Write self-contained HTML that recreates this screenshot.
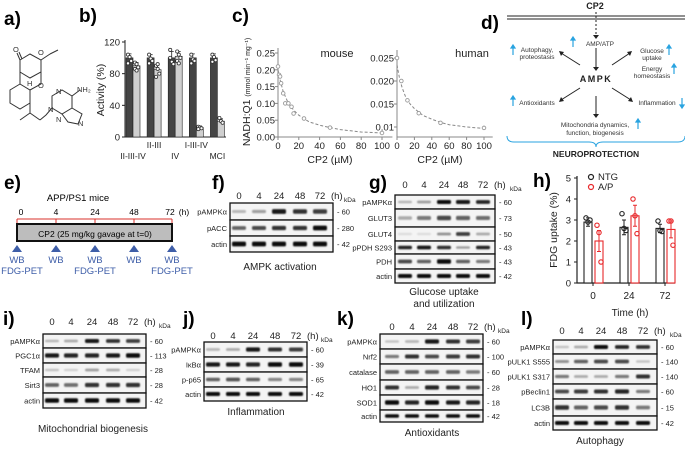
<!DOCTYPE html>
<html><head><meta charset="utf-8"><style>
html,body{margin:0;padding:0;background:#fff;}
svg{display:block;font-family:"Liberation Sans",Arial,sans-serif;}
.pl{font-weight:bold;font-size:19px;}
</style></head><body>
<svg id="fig" width="685" height="449" viewBox="0 0 685 449" xmlns="http://www.w3.org/2000/svg">
<defs><filter id="blur" x="-20%" y="-60%" width="140%" height="220%"><feGaussianBlur stdDeviation="0.8"/></filter></defs>
<text class="pl" x="4" y="25">a)</text>
<text class="pl" x="79" y="22">b)</text>
<text class="pl" x="232" y="22">c)</text>
<text class="pl" x="481" y="29">d)</text>
<text class="pl" x="4" y="189">e)</text>
<text class="pl" x="212" y="189">f)</text>
<text class="pl" x="369" y="189">g)</text>
<text class="pl" x="533" y="187">h)</text>
<text class="pl" x="3" y="325">i)</text>
<text class="pl" x="183" y="325">j)</text>
<text class="pl" x="337" y="325">k)</text>
<text class="pl" x="521" y="325">l)</text>

<g stroke="#333" stroke-width="1" fill="none">
<path d="M20,60 L30,54 L41,60 L41,72 L30,78 L20,72 Z"/>
<path d="M41,60 L50,54 M50,54 L58,50"/>
<path d="M20,60 L17,53 M22,59 L19,52"/>
<path d="M20,72 L20,84 L30,90 L41,84 L41,72"/>
<path d="M20,84 L10,90 L10,103 L20,109 L30,103 L30,90"/>
<path d="M30,103 L30,113 M30,113 L20,120 M30,113 L40,120"/>
<path d="M40,120 L46,115 L52,108"/>
<path d="M52,108 L52,96 L62,90 L72,96 L72,108 L62,114 Z"/>
<path d="M72,96 L80,90 M72,108 L82,114 L78,124 L68,122 L62,114"/>
</g>
<g font-size="7.5" fill="#333">
<text x="13" y="52">O</text><text x="38" y="55">O</text><text x="38" y="88">O</text><text x="27" y="86">H</text>
<text x="56" y="94">N</text><text x="77" y="92">NH₂</text><text x="48" y="112">N</text><text x="56" y="122">N</text><text x="78" y="126">N</text>
</g>

<g>
<line x1="507" y1="16" x2="685" y2="16" stroke="#222" stroke-width="1"/>
<line x1="507" y1="19" x2="685" y2="19" stroke="#222" stroke-width="1"/>
<text x="595" y="9" font-size="9" font-weight="bold" text-anchor="middle" fill="#222">CP2</text>
<line x1="596" y1="12" x2="596" y2="36" stroke="#222" stroke-dasharray="2,2"/>
<g stroke="#222" stroke-width="1" fill="none">
<line x1="596" y1="48" x2="596" y2="68"/><line x1="580" y1="65" x2="561" y2="53"/><line x1="612" y1="65" x2="630" y2="53"/>
<line x1="580" y1="88" x2="561" y2="100"/><line x1="612" y1="88" x2="631" y2="100"/><line x1="596" y1="96" x2="596" y2="115"/>
</g>
<g fill="#222"><path d="M593,35 L599,35 L596,39Z"/><path d="M593,67 L599,67 L596,71Z"/><path d="M559,51 L564,52 L561,56Z"/><path d="M632,51 L627,52 L630,56Z"/>
<path d="M559,102 L561,97 L564,101Z"/><path d="M633,102 L628,101 L631,97Z"/><path d="M593,114 L599,114 L596,118Z"/></g>
<g font-size="6.5" fill="#333" text-anchor="middle">
<text x="600" y="46">AMP/ATP</text>
<text x="537" y="52">Autophagy,</text><text x="537" y="59">proteostasis</text>
<text x="652" y="53">Glucose</text><text x="652" y="60">uptake</text>
<text x="652" y="71">Energy</text><text x="652" y="78">homeostasis</text>
<text x="537" y="105">Antioxidants</text><text x="657" y="105">Inflammation</text>
<text x="595" y="127">Mitochondria dynamics,</text><text x="595" y="135">function, biogenesis</text>
</g>
<text x="596" y="82" font-size="9" font-weight="bold" text-anchor="middle" letter-spacing="1.5" fill="#222">AMPK</text>
<g stroke="#29a3e0" stroke-width="1.2" fill="#29a3e0">
<line x1="573" y1="47" x2="573" y2="39"/><path d="M571,40 L575,40 L573,37Z"/>
<line x1="513" y1="55" x2="513" y2="47"/><path d="M511,48 L515,48 L513,45Z"/>
<line x1="669" y1="55" x2="669" y2="47"/><path d="M667,48 L671,48 L669,45Z"/>
<line x1="674" y1="74" x2="674" y2="66"/><path d="M672,67 L676,67 L674,64Z"/>
<line x1="513" y1="106" x2="513" y2="98"/><path d="M511,99 L515,99 L513,96Z"/>
<line x1="682" y1="98" x2="682" y2="106"/><path d="M680,105 L684,105 L682,108Z"/>
<line x1="638" y1="129" x2="638" y2="121"/><path d="M636,122 L640,122 L638,119Z"/>
</g>
<path d="M507,136 Q507,142 514,142 L589,142 Q596,142 596,147 Q596,142 603,142 L678,142 Q685,142 685,136" stroke="#29a3e0" stroke-width="1" fill="none"/>
<text x="596" y="157" font-size="8.5" font-weight="bold" text-anchor="middle" fill="#222">NEUROPROTECTION</text>
</g>

<g>
<text x="78" y="201" font-size="9.5" text-anchor="middle">APP/PS1 mice</text>
<g font-size="8.5" text-anchor="middle"><text x="21" y="215">0</text><text x="56" y="215">4</text><text x="95" y="215">24</text><text x="134" y="215">48</text><text x="170" y="215">72</text><text x="184" y="215">(h)</text></g>
<g stroke="#d9312b" stroke-width="1"><line x1="17" y1="219" x2="172" y2="219"/><line x1="17" y1="219" x2="17" y2="224"/><line x1="56" y1="219" x2="56" y2="224"/><line x1="95" y1="219" x2="95" y2="224"/><line x1="134" y1="219" x2="134" y2="224"/><line x1="172" y1="219" x2="172" y2="224"/></g>
<rect x="17" y="224" width="155" height="17" fill="#bdbdbd" stroke="#111" stroke-width="2"/>
<text x="95" y="237" font-size="8.5" text-anchor="middle">CP2 (25 mg/kg gavage at t=0)</text>
<g fill="#3e5ea8"><path d="M12,252 L22,252 L17,245Z"/><path d="M51,252 L61,252 L56,245Z"/><path d="M90,252 L100,252 L95,245Z"/><path d="M129,252 L139,252 L134,245Z"/><path d="M167,252 L177,252 L172,245Z"/></g>
<g font-size="9.5" fill="#3e5ea8" text-anchor="middle"><text x="17" y="263">WB</text><text x="22" y="274">FDG-PET</text><text x="56" y="263">WB</text><text x="95" y="263">WB</text><text x="95" y="274">FDG-PET</text><text x="134" y="263">WB</text><text x="172" y="263">WB</text><text x="172" y="274">FDG-PET</text></g>
</g>

<g id="charts"></g>
<g id="blots"></g>
</svg>
<script>
const bCategories = ["II-III-IV","II-III","IV","I-III-IV","MCI"];
const bControl = [100,100,100,100,100];
const bCP2 = [90,85,102,12,20];
const bErrControl = [5,4,8,5,5];
const bErrCP2 = [4,6,6,2,3];
const bDotsControl = [[104,101,96,93],[104,99,96,93],[110,95,92,100],[104,98,96,93],[104,101,97,95]];
const bDotsCP2 = [[94,92,88,86,84],[90,86,80,76,92],[108,104,100,96,93],[13,12,11,10],[24,20,18]];
const bTicks = [0,40,80,120];

const mouseConc = [0,1,2,3,5,7,10,13,15,25,50,100];
const mouseRate = [0.21,0.185,0.18,0.16,0.13,0.10,0.10,0.09,0.07,0.055,0.028,0.012];
const mouseFitConc = [0,2,5,10,15,20,30,40,50,60,80,100];
const mouseFitRate = [0.20,0.17,0.135,0.10,0.08,0.065,0.045,0.035,0.028,0.022,0.015,0.012];
const mouseYTicks = [0,0.05,0.10,0.15,0.20,0.25];
const cXTicks = [0,20,40,60,80,100];
const humanConc = [0,5,12,25,50,100];
const humanRate = [0.025,0.020,0.0158,0.013,0.0109,0.0098];
const humanFitConc = [0,3,6,10,15,20,30,40,50,60,80,100];
const humanFitRate = [0.0235,0.0205,0.0185,0.0165,0.015,0.014,0.0125,0.0117,0.011,0.0105,0.0100,0.0097];
const humanYTicks = [0.010,0.015,0.020,0.025];

const hTimes = ["0","24","72"];
const hNTG = [2.9,2.65,2.6];
const hAP = [2.0,3.2,2.55];
const hErrNTG = [0.2,0.35,0.2];
const hErrAP = [0.5,0.5,0.4];
const hDotsNTG = [[3.1,2.9,3.0],[3.3,2.6,2.5],[2.95,2.5,2.45]];
const hDotsAP = [[2.75,2.4,1.0],[4.0,3.2,2.35],[2.95,2.95,1.8]];
const hTicks = [0,1,2,3,4,5];

const NS="http://www.w3.org/2000/svg";
const charts=document.getElementById('charts');
function mk(tag,attrs,parent){const e=document.createElementNS(NS,tag);for(const k in attrs)e.setAttribute(k,attrs[k]);(parent||charts).appendChild(e);return e;}
function tx(x,y,s,size,anchor,parent,extra){const e=mk('text',Object.assign({x:x,y:y,'font-size':size,'text-anchor':anchor||'start',fill:'#222'},extra||{}),parent);e.textContent=s;return e;}

const bx0=125, bxEnd=226, bGroup0=130, bGroupStep=21.1;
const bY=v=>137-v*95/120;
let ax=mk('path',{d:`M${bx0},40 L${bx0},137 L${bxEnd},137`,stroke:'#222',fill:'none','stroke-width':1});


bTicks.forEach(t=>{mk('line',{x1:bx0-3,x2:bx0,y1:bY(t),y2:bY(t),stroke:'#222'});
 const l=tx(bx0-5,bY(t)+3.5,String(t),9.5,'end');
 
 });
let bt=tx(0,0,'Activity (%)',10.5,'middle',charts,{transform:'translate(104,90) rotate(-90)'});


bCategories.forEach((c,i)=>{
 const cx=bGroup0+i*bGroupStep;
 const d=mk('rect',{x:cx-4,y:bY(bControl[i]),width:7,height:137-bY(bControl[i]),fill:'#444',stroke:'#222','stroke-width':0.6});
 
 
 const l=mk('rect',{x:cx+3,y:bY(bCP2[i]),width:7,height:137-bY(bCP2[i]),fill:'#cfcfcf',stroke:'#222','stroke-width':0.6});
 
 
 [[cx-0.5,bControl[i],bErrControl[i]],[cx+6.5,bCP2[i],bErrCP2[i]]].forEach(([x,v,e])=>{
  mk('path',{d:`M${x},${bY(v)} L${x},${bY(v+e)} M${x-2},${bY(v+e)} L${x+2},${bY(v+e)}`,stroke:'#222',fill:'none','stroke-width':0.8});});
 bDotsControl[i].forEach((v,j)=>{const p=mk('circle',{cx:cx-2+(j%3)*1.6,cy:bY(v),r:1.6,fill:'#fff',stroke:'#333','stroke-width':0.8});
  
  });
 bDotsCP2[i].forEach((v,j)=>{const p=mk('circle',{cx:cx+5+(j%3)*1.6,cy:bY(v),r:1.6,fill:'#fff',stroke:'#333','stroke-width':0.8});
  
  });
 const lab=tx(cx+3,i%2?148:159,c,8.5,'middle');
 
 
});

function curvePanel(name,xs,ys,fx,fy,yTicks,xMap,yMap,axisX,yTop,fmt){
 const a=mk('path',{d:`M${axisX},${yTop} L${axisX},137 L${xMap(110)},137`,stroke:'#888',fill:'none','stroke-width':1});
 
 
 yTicks.forEach(t=>{mk('line',{x1:axisX-3,x2:axisX,y1:yMap(t),y2:yMap(t),stroke:'#888'});
  const l=tx(axisX-3,yMap(t)+3.5,fmt(t),9.5,'end');
  
  });
 cXTicks.forEach(t=>{mk('line',{x1:xMap(t),x2:xMap(t),y1:137,y2:140,stroke:'#888'});
  const l=tx(xMap(t),149,String(t),9.5,'middle');
  
  });
 const f=mk('path',{d:fx.map((v,i)=>(i?'L':'M')+xMap(v).toFixed(1)+','+yMap(fy[i]).toFixed(1)).join(' '),stroke:'#888',fill:'none','stroke-dasharray':'3,2','stroke-width':1});
 
 
 xs.forEach((v,i)=>{const p=mk('circle',{cx:xMap(v),cy:yMap(ys[i]),r:1.8,fill:'#fff',stroke:'#999','stroke-width':0.9});
  
  });
}
const mx=v=>278+v*1.04, my=v=>137-v*336;
curvePanel('mouse',mouseConc,mouseRate,mouseFitConc,mouseFitRate,mouseYTicks,mx,my,278,48,t=>t.toFixed(2));
const hxm=v=>397+v*0.87, hym=v=>127-(v-0.01)*4600;
curvePanel('human',humanConc,humanRate,humanFitConc,humanFitRate,humanYTicks,hxm,hym,397,50,t=>t===0.01?'0.01':t.toFixed(3));
let t1=tx(337,57,'mouse',11,'middle');
let t2=tx(472,57,'human',11,'middle');
let t3=tx(330,163,'CP2 (µM)',10.5,'middle');
let t4=tx(440,163,'CP2 (µM)',10.5,'middle');
let yt=mk('text',{transform:'translate(250,92) rotate(-90)','text-anchor':'middle',fill:'#222','font-size':10.5});
yt.innerHTML='NADH:Q1 <tspan font-size="7">(mmol min⁻¹ mg⁻¹)</tspan>';



const hx0=577, hY=v=>283-v*21, hGroup0=593, hStep=36;
let ha=mk('path',{d:`M${hx0},176 L${hx0},283 L675,283`,stroke:'#222',fill:'none','stroke-width':1.2});


hTicks.forEach(t=>{mk('line',{x1:hx0-3,x2:hx0,y1:hY(t),y2:hY(t),stroke:'#222'});
 const l=tx(hx0-6,hY(t)+3.5,String(t),9.5,'end');
 
 });
let hyt=tx(0,0,'FDG uptake (%)',10.5,'middle',charts,{transform:'translate(557,230) rotate(-90)'});


hTimes.forEach((t,i)=>{
 const cx=hGroup0+i*hStep;
 [[cx-9,hNTG[i],hErrNTG[i],hDotsNTG[i],'#222','ntg'],[cx+2,hAP[i],hErrAP[i],hDotsAP[i],'#e8282b','ap']].forEach(([x,v,e,ds,col,nm])=>{
  const r=mk('rect',{x:x,y:hY(v),width:8,height:283-hY(v),fill:'#fff',stroke:col,'stroke-width':1.1});
  
  
  mk('path',{d:`M${x+4},${hY(v-e)} L${x+4},${hY(v+e)} M${x+2},${hY(v+e)} L${x+6},${hY(v+e)} M${x+2},${hY(v-e)} L${x+6},${hY(v-e)}`,stroke:col,fill:'none','stroke-width':1});
  ds.forEach((dv,j)=>{const p=mk('circle',{cx:x+2+j*2,cy:hY(dv),r:2.2,fill:'none',stroke:col,'stroke-width':1.1});
   
   });
 });
 mk('line',{x1:cx,x2:cx,y1:283,y2:286,stroke:'#222'});
 const l=tx(cx,299,t,10,'middle');
 
 
});
let htt=tx(630,316,'Time (h)',10,'middle');
let lg1=mk('circle',{cx:591,cy:177,r:2.5,fill:'none',stroke:'#222','stroke-width':1.2});
let lg2=mk('circle',{cx:591,cy:187,r:2.5,fill:'none',stroke:'#e8282b','stroke-width':1.2});
let lt1=tx(598,180,'NTG',9.5,'start');
let lt2=tx(598,190,'A/P',9.5,'start');

const blots=document.getElementById('blots');
function blot(name,box,lanesX,laneY,kdaX,rows,caption){
 const g=mk('g',{},blots);
 
 
 ['0','4','24','48','72'].forEach((s,i)=>{tx(lanesX[i],laneY,s,9.5,'middle',g);});
 tx(lanesX[4]+11,laneY,'(h)',9.5,'start',g);
 tx(kdaX+13,laneY+3,'kDa',6.5,'start',g);
 rows.forEach(r=>{
  const [label,y0,y1,ints,kda]=r;
  const h=y1-y0;
  const b=mk('rect',{x:box[0],y:y0,width:box[1]-box[0],height:h,fill:'#f4f4f4',stroke:'#111','stroke-width':1.3},g);
  
  
  ints.forEach((v,i)=>{
   const bh=Math.max(1.8,h*0.14+v*h*0.16);
   const band=mk('rect',{x:lanesX[i]-7,y:y0+h/2-bh/2,width:14,height:bh,rx:1.5,fill:'#000','fill-opacity':v,filter:'url(#blur)'},g);
   
   
  });
  tx(box[0]-3,y0+h/2+3,label,7.5,'end',g);
  tx(box[1]+4,y0+h/2+3,'- '+kda,7.5,'start',g);
 });
 caption.forEach(c=>tx(c[0],c[1],c[2],10,'middle',g));
}
const A=[0.95,0.95,0.95,0.95,0.95];
blot('blot-f-ampk',[230,333],[239,259,279,300,320],199,331,[
 ['pAMPKα',203,220,[0.25,0.35,0.9,0.8,0.75],60],['pACC',220,236,[0.6,0.7,0.8,0.8,0.95],280],['actin',236,252,A,42]],[[280,270,'AMPK activation']]);
blot('blot-g-glucose',[395,495],[405,424,444,463,483],188,497,[
 ['pAMPKα',195,209,[0.25,0.35,0.95,0.9,0.85],60],['GLUT3',209,227,[0.3,0.5,0.7,0.6,0.55],73],['GLUT4',227,241,[0.1,0.1,0.4,0.75,0.3],50],
 ['pPDH S293',241,254,[0.85,0.9,0.8,0.35,0.85],43],['PDH',254,269,[0.7,0.6,0.95,0.6,0.5],43],['actin',269,283,A,42]],[[444,295,'Glucose uptake'],[444,307,'and utilization']]);
blot('blot-i-mito',[43,146],[52,71,92,113,133],325,146,[
 ['pAMPKα',334,348,[0.25,0.3,0.9,0.8,0.75],60],['PGC1α',348,363,[0.9,0.85,0.85,0.9,0.95],113],['TFAM',363,377,[0.2,0.15,0.35,0.3,0.15],28],
 ['Sirt3',377,393,[0.6,0.55,0.8,0.8,0.8],28],['actin',393,408,A,42]],[[93,432,'Mitochondrial biogenesis']]);
blot('blot-j-inflam',[204,307],[213,233,253,275,296],339,308,[
 ['pAMPKα',342,357,[0.25,0.3,0.9,0.8,0.75],60],['IκBα',357,372,[0.9,0.9,0.85,0.95,0.95],39],['p-p65',372,387,[0.6,0.65,0.6,0.45,0.45],65],
 ['actin',387,401,A,42]],[[256,415,'Inflammation']]);
blot('blot-k-antiox',[380,483],[392,412,432,453,473],330,485,[
 ['pAMPKα',334,349,[0.2,0.25,0.9,0.8,0.75],60],['Nrf2',349,364,[0.5,0.8,0.7,0.75,0.8],100],['catalase',364,380,[0.6,0.6,0.6,0.6,0.5],60],
 ['HO1',380,395,[0.8,0.3,0.85,0.8,0.7],28],['SOD1',395,410,[0.95,0.85,0.95,0.9,0.85],18],['actin',410,422,A,42]],[[432,436,'Antioxidants']]);
blot('blot-l-autophagy',[553,657],[562,581,601,622,643],334,657,[
 ['pAMPKα',340,354,[0.2,0.3,0.95,0.85,0.8],60],['pULK1 S555',354,369,[0.4,0.6,0.7,0.7,0.2],140],['pULK1 S317',369,384,[0.5,0.3,0.3,0.5,0.8],140],
 ['pBeclin1',384,399,[0.7,0.75,0.8,0.85,0.5],60],['LC3B',399,416,[0.8,0.6,0.7,0.8,0.5],15],['actin',416,430,A,42]],[[600,444,'Autophagy']]);
</script>
</body></html>
